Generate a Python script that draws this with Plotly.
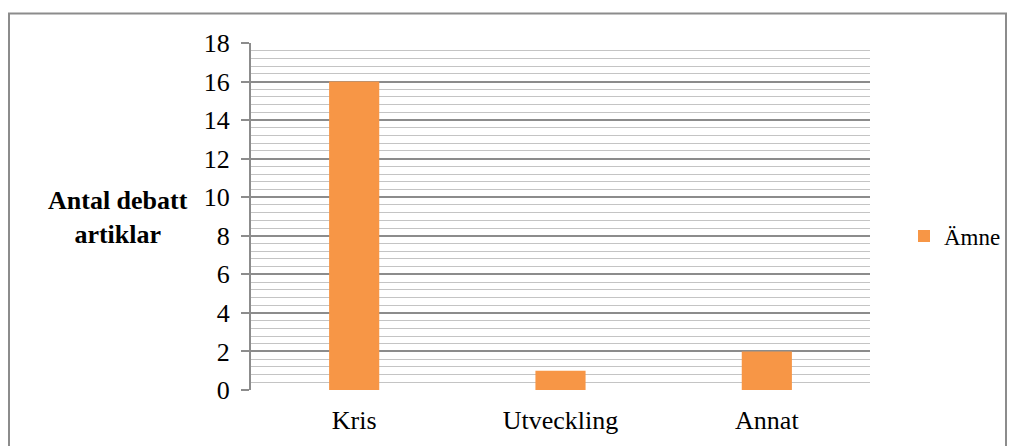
import plotly.graph_objects as go

categories = ["Kris", "Utveckling", "Annat"]
values = [16, 1, 2]
series_name = "Ämne"
y_ticks = [0, 2, 4, 6, 8, 10, 12, 14, 16, 18]

OFF = 0  # body margin removed below via post_script
W, H = 1010 - OFF, 446 - OFF
# plot area in page pixels
PX0, PX1, PY0, PY1 = 251, 870, 43, 390
L, T = PX0 - OFF, PY0 - OFF
R = W - (PX1 - OFF)
B = H - (PY1 - OFF)
pw = PX1 - PX0
ph = PY1 - PY0


def px(x):
    return (x - PX0) / pw


def py(y):
    return (PY1 - y) / ph


fig = go.Figure()
fig.add_trace(go.Bar(x=categories, y=values, name=series_name,
                     marker=dict(color="#F79646", line=dict(width=0))))

font = "Liberation Serif"
fig.update_layout(
    width=W, height=H,
    margin=dict(l=L, r=R, t=T, b=B, autoexpand=False),
    paper_bgcolor="white", plot_bgcolor="white",
    bargap=0.757,
    showlegend=True,
    legend=dict(x=px(904), y=py(236), xanchor="left", yanchor="middle",
                font=dict(family=font, size=23, color="black"),
                itemwidth=30, bgcolor="rgba(0,0,0,0)"),
    xaxis=dict(showgrid=False, showline=False, ticks="",
               tickfont=dict(family=font, size=26, color="black"),
               ticklabelstandoff=12),
    yaxis=dict(range=[0, 18], tickvals=y_ticks, showgrid=True,
               gridcolor="#8c8c8c", gridwidth=1.5,
               showline=True, linecolor="#8c8c8c", linewidth=2,
               ticks="outside", ticklen=8, tickcolor="#8c8c8c", tickwidth=1.5,
               tickfont=dict(family=font, size=26, color="black"),
               ticklabelstandoff=6,
               zeroline=False,
               minor=dict(dtick=0.4, showgrid=True, gridcolor="#c4c4c4",
                          gridwidth=1.2, ticks="")),
)

fig.add_annotation(text="<b>Antal debatt<br>artiklar</b>", xref="paper", yref="paper",
                   x=px(118), y=py(217), showarrow=False,
                   xanchor="center", yanchor="middle", align="center",
                   font=dict(family=font, size=26, color="black"))

# outer chart frame
fig.add_shape(type="rect", xref="paper", yref="paper",
              x0=px(9), x1=px(1006), y0=py(470), y1=py(13.5),
              line=dict(color="#8c8c8c", width=2), layer="below")

fig.write_html(
    "out.html",
    config={"displayModeBar": False},
    post_script="document.body.style.margin='0';document.body.style.overflow='hidden';",
)
